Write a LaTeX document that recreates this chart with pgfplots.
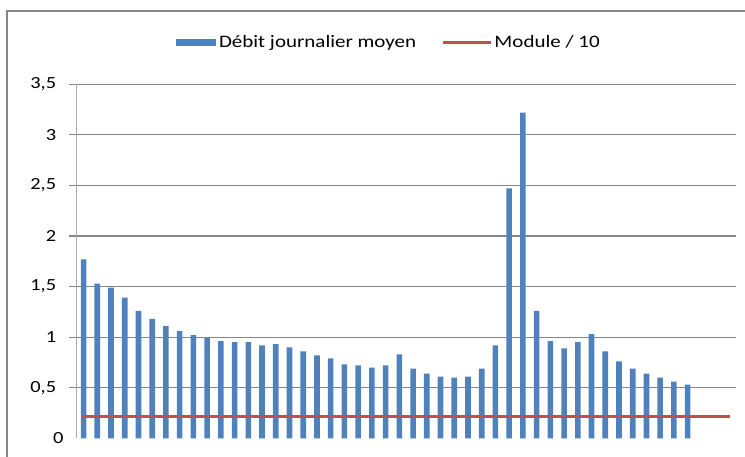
\documentclass[border=0pt]{standalone}
\usepackage{fontspec}
\setmainfont{Carlito}[FakeStretch=1.2]
\usepackage{pgfplots}
\pgfplotsset{compat=1.18}
\definecolor{barblue}{HTML}{4F81BD}
\definecolor{linered}{HTML}{C0504D}
\definecolor{gridgray}{HTML}{868686}
\definecolor{axgray}{HTML}{ABABAB}
\begin{document}
\begin{tikzpicture}
\begin{axis}[
  scale only axis, width=659pt, height=354pt,
  xmin=0.5, xmax=48.5, ymin=0, ymax=3.5,
  enlargelimits=false,
  axis x line=none, axis y line=left,
  y axis line style={-, color=axgray, line width=1pt},
  xtick=\empty,
  ytick={0.5,1,...,3.5},
  extra y ticks={0},
  extra y tick style={ymajorgrids=false, major tick length=0pt},
  tick align=outside,
  major tick length=7.4pt,
  tick style={color=gridgray, line width=1.1pt},
  ymajorgrids,
  grid style={color=gridgray, line width=1.1pt},
  /pgf/number format/assume math mode=true,
  /pgf/number format/use comma,
  /pgf/number format/fixed,
  ticklabel style={font=\fontsize{17}{20}\selectfont},
  yticklabel style={anchor=east, inner sep=0pt, xshift=-13pt},
  legend columns=-1,
  legend style={at={(0.1507,1.118)}, anchor=west, draw=none, fill=none,
    inner sep=0pt, outer sep=0pt, font=\fontsize{17.5}{21}\selectfont,
    column sep=3.3pt,
    /tikz/every even column/.append style={column sep=27pt},
    nodes={inner sep=0pt}},
]
\coordinate (o) at (rel axis cs:0,0);
\addplot[ybar, fill=barblue, draw=none, bar width=5.6pt,
  legend image code/.code={\fill[barblue] (0pt,-3.3pt) rectangle (39.7pt,3.3pt);}]
  coordinates {
  (1,1.77) (2,1.53) (3,1.49) (4,1.39) (5,1.26) (6,1.18) (7,1.11) (8,1.06)
  (9,1.02) (10,0.99) (11,0.96) (12,0.95) (13,0.95) (14,0.92) (15,0.93)
  (16,0.90) (17,0.86) (18,0.82) (19,0.79) (20,0.73) (21,0.72) (22,0.70)
  (23,0.72) (24,0.83) (25,0.69) (26,0.64) (27,0.61) (28,0.60) (29,0.61)
  (30,0.69) (31,0.92) (32,2.47) (33,3.22) (34,1.26) (35,0.96) (36,0.89)
  (37,0.95) (38,1.03) (39,0.86) (40,0.76) (41,0.69) (42,0.64) (43,0.60)
  (44,0.56) (45,0.53)
  };
\addlegendentry{Débit journalier moyen}
\addplot[color=linered, line width=3pt, line cap=rect, mark=none,
  legend image code/.code={\draw[linered, line width=3pt] (0pt,0pt) -- (45pt,0pt);}]
  coordinates {(1,0.22) (48,0.22)};
\addlegendentry{Module / 10}
\end{axis}
\path[use as bounding box] ([shift={(-76.7pt,-17.7pt)}]o) rectangle ++(745pt,456pt);
\draw[gridgray, line width=1.6pt] ([shift={(-69.4pt,-20pt)}]o) -- ([shift={(-69.4pt,427.3pt)}]o) -- ([shift={(670pt,427.3pt)}]o);
\end{tikzpicture}
\end{document}
